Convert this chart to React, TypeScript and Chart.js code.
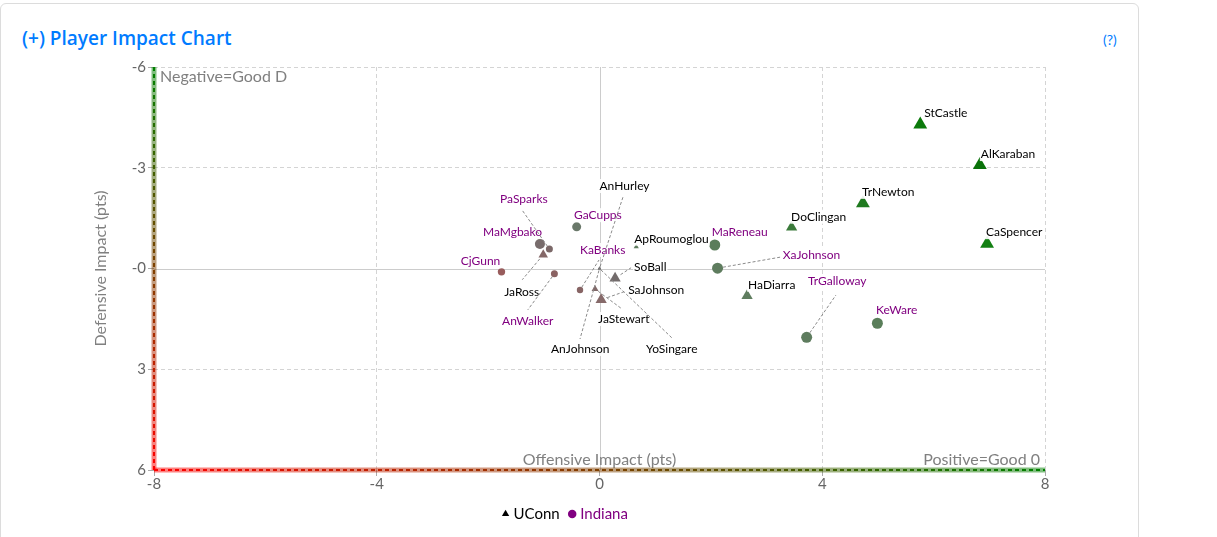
import React, { useEffect, useRef } from "react";
import { Chart, registerables } from "chart.js";

Chart.register(...registerables);

const FONT = "Lato, 'Open Sans', sans-serif";

// ---------------- DATA ----------------
const uconnPlayers = ["StCastle", "AlKaraban", "TrNewton", "CaSpencer", "DoClingan", "HaDiarra", "ApRoumoglou", "SoBall", "SaJohnson", "JaStewart", "JaRoss", "AnHurley", "YoSingare", "AnJohnson"];
const uconnOffense = [5.76, 6.83, 4.73, 6.96, 3.45, 2.65, 0.66, 0.28, 0.03, -0.08, -1.01, 0, 0, 0];
const uconnDefense = [-4.29, -3.08, -1.94, -0.74, -1.23, 0.81, -0.65, 0.29, 0.93, 0.61, -0.41, 0, 0, 0];

const indianaPlayers = ["PaSparks", "MaMgbako", "CjGunn", "GaCupps", "KaBanks", "AnWalker", "MaReneau", "XaJohnson", "TrGalloway", "KeWare"];
const indianaOffense = [-0.9, -1.07, -1.76, -0.41, -0.35, -0.81, 2.07, 2.12, 3.72, 4.99];
const indianaDefense = [-0.58, -0.73, 0.1, -1.24, 0.64, 0.16, -0.7, -0.01, 2.05, 1.63];

const teams = ["UConn", "Indiana"];
const xTicks = [-8, -4, 0, 4, 8];
const yTicks = [-6, -3, 0, 3, 6];
const yTickLabels = ["-6", "-3", "-0", "3", "6"];

// ---------------- STYLE ----------------
const uconnRadius = [8, 8, 8, 8, 6.5, 6.5, 3, 6.5, 6.5, 4, 5.5, 2, 2, 2];
const uconnColor = ["#0b7a0b", "#0a720a", "#1f7a1f", "#138013", "#3b7b3b", "#5f7d5f", "#5f7d5f", "#736c6c", "#866a6a", "#816a6a", "#856868", "#777777", "#777777", "#777777"];
const indianaRadius = [3.5, 5, 3.7, 4.5, 3.2, 3.5, 5.5, 5.5, 5.5, 5.5];
const indianaColor = ["#7b6868", "#786c6c", "#985c5c", "#6a786a", "#876464", "#8a6262", "#5b7d5b", "#5e7c5e", "#5e7c5e", "#5a7e5a"];

// label layout: [text dx, text dy, leader-line end dx, leader-line end dy] (pixels from point)
const uconnLabelLayout: number[][] = [
  [4, -11.5], [1, -11], [-1, -11.5], [-1, -11.5], [-0.5, -10.5], [1, -11], [-2, -8],
  [19, -11.5, 16, -10.5], [27, -10, 23, -8], [3, 30, 27, 20], [-39, 37, -21, 25],
  [0, -82.5, 23.5, -71.5], [46.5, 80.5, 72.5, 69.5], [-48.5, 80.5, -19.5, 70.5],
];
const indianaLabelLayout: number[][] = [
  [-49.3, -50, -27.3, -39], [-57, -12], [-40.7, -10.7], [-2.7, -11.7], [0, -40, 19, -30],
  [-52.3, 47, -26.6, 36], [-3, -13], [65.3, -13.3, 64.3, -11.3], [1.3, -56.3, 29.3, -42.3], [-1.3, -13.3],
];

const decorPlugin = {
  id: "decor",
  beforeDatasetsDraw(chart: any) {
    const { ctx, chartArea } = chart;
    const { left, right, top, bottom } = chartArea;
    const xs = chart.scales.x;
    const ys = chart.scales.y;
    ctx.save();
    // zero lines
    ctx.strokeStyle = "#cccccc";
    ctx.lineWidth = 1;
    const x0 = Math.round(xs.getPixelForValue(0)) + 0.5;
    const y0 = Math.round(ys.getPixelForValue(0)) + 0.5;
    ctx.beginPath();
    ctx.moveTo(x0, top);
    ctx.lineTo(x0, bottom);
    ctx.moveTo(left, y0);
    ctx.lineTo(right, y0);
    ctx.stroke();

    // annotation texts
    ctx.fillStyle = "#808080";
    ctx.font = `16px ${FONT}`;
    ctx.textBaseline = "middle";
    ctx.textAlign = "left";
    ctx.fillText("Negative=Good D", left + 6, top + 10);
    ctx.textAlign = "right";
    ctx.fillText("Positive=Good 0", right - 5, bottom - 10);
    ctx.textAlign = "center";
    ctx.fillText("Offensive Impact (pts)", (left + right) / 2, bottom - 10);

    // gradient axis borders
    const gv = ctx.createLinearGradient(0, top, 0, bottom);
    gv.addColorStop(0, "rgba(0,128,0,0.5)");
    gv.addColorStop(1, "rgba(255,0,0,0.5)");
    const gvd = ctx.createLinearGradient(0, top, 0, bottom);
    gvd.addColorStop(0, "rgb(0,128,0)");
    gvd.addColorStop(1, "rgb(255,0,0)");
    const gh = ctx.createLinearGradient(left, 0, right, 0);
    gh.addColorStop(0, "rgba(255,0,0,0.5)");
    gh.addColorStop(1, "rgba(0,128,0,0.5)");
    const ghd = ctx.createLinearGradient(left, 0, right, 0);
    ghd.addColorStop(0, "rgb(255,0,0)");
    ghd.addColorStop(1, "rgb(0,128,0)");

    ctx.lineWidth = 5;
    ctx.strokeStyle = gv;
    ctx.beginPath();
    ctx.moveTo(left, top);
    ctx.lineTo(left, bottom);
    ctx.stroke();
    ctx.strokeStyle = gh;
    ctx.beginPath();
    ctx.moveTo(left, bottom);
    ctx.lineTo(right, bottom);
    ctx.stroke();

    ctx.lineWidth = 2;
    ctx.setLineDash([4, 3]);
    ctx.strokeStyle = gvd;
    ctx.beginPath();
    ctx.moveTo(left, top);
    ctx.lineTo(left, bottom);
    ctx.stroke();
    ctx.strokeStyle = ghd;
    ctx.beginPath();
    ctx.moveTo(left, bottom);
    ctx.lineTo(right, bottom);
    ctx.stroke();
    ctx.restore();
  },
  afterDatasetsDraw(chart: any) {
    const { ctx } = chart;
    ctx.save();
    const groups = [
      { names: uconnPlayers, layout: uconnLabelLayout, color: "#000000", radius: uconnRadius },
      { names: indianaPlayers, layout: indianaLabelLayout, color: "#800080", radius: indianaRadius },
    ];
    ctx.font = `12px ${FONT}`;
    ctx.textBaseline = "middle";
    ctx.textAlign = "left";
    const lines: number[][] = [];
    groups.forEach((g, di) => {
      const meta = chart.getDatasetMeta(di);
      meta.data.forEach((el: any, i: number) => {
        const x = el.x;
        const y = el.y;
        const lay = g.layout[i];
        const tx = x + lay[0];
        const ty = y + lay[1];
        const w = ctx.measureText(g.names[i]).width;
        ctx.fillStyle = "rgba(255,255,255,0.9)";
        ctx.fillRect(tx - 1, ty - 7, w + 2, 14);
        ctx.fillStyle = g.color;
        ctx.fillText(g.names[i], tx, ty);
        if (lay.length > 2) {
          const ex = x + lay[2];
          const ey = y + lay[3];
          const d = Math.hypot(ex - x, ey - y) || 1;
          const r = g.radius[i];
          lines.push([x + ((ex - x) / d) * r, y + ((ey - y) / d) * r, ex, ey]);
        }
      });
    });
    ctx.strokeStyle = "#8a8a8a";
    ctx.lineWidth = 1;
    ctx.setLineDash([3, 2]);
    lines.forEach((l) => {
      ctx.beginPath();
      ctx.moveTo(l[0], l[1]);
      ctx.lineTo(l[2], l[3]);
      ctx.stroke();
    });
    ctx.restore();
  },
};

function ImpactChart() {
  const ref = useRef<HTMLCanvasElement | null>(null);
  useEffect(() => {
    if (!ref.current) return;
    const chart = new Chart(ref.current, {
      type: "scatter",
      data: {
        datasets: [
          {
            label: teams[0],
            data: uconnOffense.map((x, i) => ({ x, y: uconnDefense[i] })),
            pointStyle: "triangle",
            pointRadius: uconnRadius,
            backgroundColor: uconnColor,
            borderColor: uconnColor,
            borderWidth: 0,
          },
          {
            label: teams[1],
            data: indianaOffense.map((x, i) => ({ x, y: indianaDefense[i] })),
            pointStyle: "circle",
            pointRadius: indianaRadius,
            backgroundColor: indianaColor,
            borderColor: indianaColor,
            borderWidth: 0,
          },
        ],
      },
      options: {
        responsive: false,
        maintainAspectRatio: false,
        animation: false,
        layout: { padding: { left: 88, top: 67, right: 172, bottom: 5.5 } },
        scales: {
          x: {
            type: "linear",
            min: xTicks[0],
            max: xTicks[xTicks.length - 1],
            afterBuildTicks: (s: any) => { s.ticks = xTicks.map((v) => ({ value: v })); },
            ticks: { color: "#666", font: { family: FONT, size: 15 }, padding: -1 },
            grid: {
              color: (c: any) => (c.tick && c.tick.value === 0 ? "rgba(0,0,0,0)" : "#d4d4d4"),
              tickColor: "#aaaaaa",
              tickLength: 6,
            },
            border: { display: false, dash: [4, 3] },
            afterFit: (s: any) => { s.height = 24.5; },
          },
          y: {
            type: "linear",
            reverse: true,
            min: yTicks[0],
            max: yTicks[yTicks.length - 1],
            afterBuildTicks: (s: any) => { s.ticks = yTicks.map((v) => ({ value: v })); },
            ticks: {
              color: "#666",
              font: { family: FONT, size: 15 },
              padding: 2,
              callback: (v: any) => yTickLabels[yTicks.indexOf(Number(v))],
            },
            grid: {
              color: (c: any) => (c.tick && c.tick.value === 0 ? "rgba(0,0,0,0)" : "#d4d4d4"),
              tickColor: "#aaaaaa",
              tickLength: 6,
            },
            border: { display: false, dash: [4, 3] },
            title: {
              display: true,
              text: "Defensive Impact (pts)",
              color: "#808080",
              font: { family: FONT, size: 16 },
              padding: { top: 3, bottom: 0 },
            },
            afterFit: (s: any) => { s.width = 66; },
          },
        },
        plugins: {
          tooltip: { enabled: false },
          legend: {
            position: "bottom",
            labels: {
              usePointStyle: true,
              boxWidth: 1,
              boxHeight: 6,
              padding: 12,
              font: { family: FONT, size: 15 },
              generateLabels: () => [
                { text: teams[0], fillStyle: "#000000", strokeStyle: "#000000", fontColor: "#000000", pointStyle: "triangle", lineWidth: 0, hidden: false, datasetIndex: 0 } as any,
                { text: teams[1], fillStyle: "#800080", strokeStyle: "#800080", fontColor: "#800080", pointStyle: "circle", lineWidth: 0, hidden: false, datasetIndex: 1 } as any,
              ],
            },
          },
        },
      } as any,
      plugins: [decorPlugin],
    });
    return () => chart.destroy();
  }, []);
  return <canvas ref={ref} width={1217} height={537} style={{ position: "absolute", left: 0, top: 0, width: 1217, height: 537 }} />;
}

export default function App() {
  return (
    <div style={{ position: "absolute", left: 0, top: 0, width: 1217, height: 537, overflow: "hidden", background: "#fff" }}>
      <div style={{ position: "absolute", left: 0, top: 3, width: 1137, height: 600, border: "1px solid #dcdcdc", borderRadius: 6 }} />
      <div style={{ position: "absolute", left: 22, top: 25, fontFamily: "'Open Sans', sans-serif", fontWeight: 600, fontSize: 19, lineHeight: "26px", color: "#007bff", whiteSpace: "nowrap" }}>
        (+) Player Impact Chart
      </div>
      <div style={{ position: "absolute", left: 1103, top: 31, fontFamily: FONT, fontSize: 14, lineHeight: "18px", color: "#007bff" }}>(?)</div>
      <ImpactChart />
    </div>
  );
}
